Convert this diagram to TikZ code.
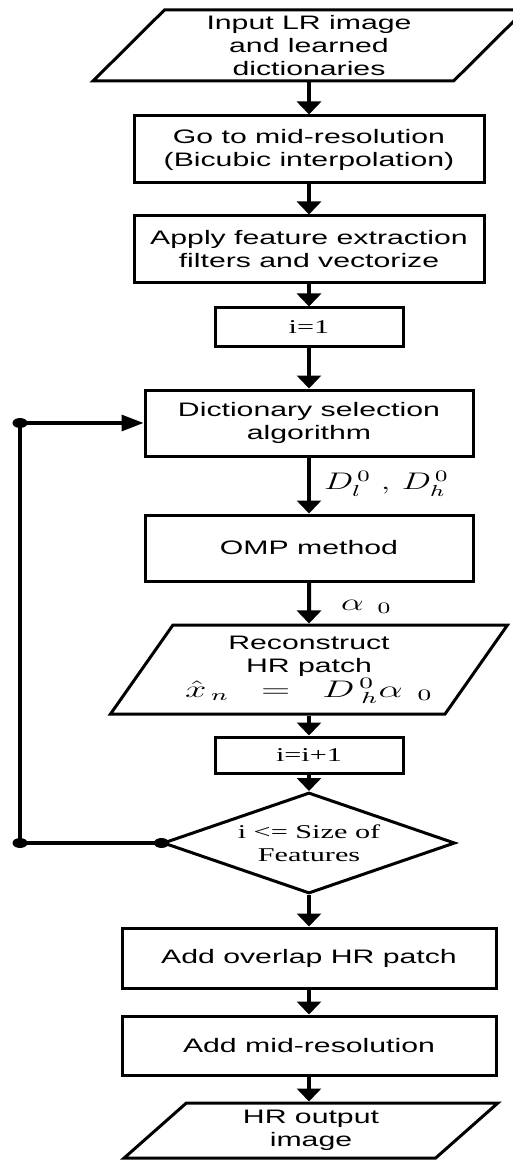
\documentclass[tikz,border=0pt]{standalone}
\usepackage{fontspec}
\setmainfont{Liberation Sans}[FakeStretch=1.55]
\newfontfamily\tnr{Liberation Serif}[FakeStretch=1.55]
\usepackage{amsmath}
\usepackage{graphicx}
\usetikzlibrary{shapes.geometric, arrows.meta, positioning}

\begin{document}
\begin{tikzpicture}[
    x=0.5pt, y=-0.5pt,
    procbox/.style = {rectangle, draw=black, line width=1.5pt, align=center, inner sep=0pt, font=\fontsize{9.75}{11.5}\selectfont},
    iobox/.style = {trapezium, trapezium left angle=50, trapezium right angle=130, trapezium stretches=true, draw=black, line width=1.5pt, align=center, inner sep=0pt, font=\fontsize{9.75}{11.5}\selectfont},
    decbox/.style = {diamond, draw=black, line width=1.5pt, align=center, inner sep=0pt, shape aspect=2.9, font=\tnr\fontsize{9.75}{11.5}\selectfont},
    flow/.style = {-{Triangle[length=6.5pt, width=12pt]}, line width=2pt},
    loopline/.style = {line width=1.6pt},
    mathlbl/.style = {inner sep=0pt, font=\fontsize{11.5}{13}\selectfont},
    dot/.style = {ellipse, fill=black, inner sep=0pt, minimum width=7.5pt, minimum height=5pt}
]
\useasboundingbox (0,0) rectangle (513,1160);

\node [iobox, minimum width=216pt, minimum height=35.5pt] (input) at (309, 45.5) {Input LR image\\and learned\\dictionaries};
\node [procbox, minimum width=175pt, minimum height=33.5pt] (midres) at (309, 149.5) {Go to mid-resolution\\(Bicubic interpolation)};
\node [procbox, minimum width=175pt, minimum height=33.5pt] (feat) at (309, 249.5) {Apply feature extraction\\filters and vectorize};
\node [procbox, minimum width=94pt, minimum height=19pt, font=\tnr\fontsize{9.75}{11.5}\selectfont] (init) at (309, 327) {i=1};
\node [procbox, minimum width=164pt, minimum height=33pt] (dictsel) at (309, 423) {Dictionary selection\\algorithm};
\node [procbox, minimum width=164pt, minimum height=33pt] (omp) at (309, 548) {OMP method};
\node [iobox, minimum width=199pt, minimum height=44.5pt] (recon) at (309, 669.5)
    {Reconstruct\\HR patch\\{\fontsize{11.5}{11.5}\selectfont\scalebox{1.6}[1]{$\hat{x}_{\,n}\;\;=\;\;D_{\;h}^{\,0}\alpha_{\;\;0}$}}};
\node [procbox, minimum width=94pt, minimum height=18pt, font=\tnr\fontsize{9.75}{11.5}\selectfont] (incr) at (309, 755) {i=i+1};
\node [decbox, minimum width=146pt, minimum height=50.5pt] (check) at (309, 843) {i <= Size of\\Features};
\node [procbox, minimum width=187pt, minimum height=30pt] (overlap) at (309, 958) {Add overlap HR patch};
\node [procbox, minimum width=187pt, minimum height=29.5pt] (addmid) at (309, 1045.5) {Add mid-resolution};
\node [iobox, minimum width=187pt, minimum height=27.5pt] (output) at (311, 1130.5) {HR output\\image};

\coordinate (lbot) at (20, 843);

% main flow
\draw[flow] (input.south -| midres.north) -- (midres);
\draw[flow] (midres) -- (feat);
\draw[flow] (feat) -- (init);
\draw[flow] (init) -- (dictsel);
\draw[flow] (dictsel) -- node[mathlbl, right=6.5pt, yshift=1pt] {\scalebox{1.45}[1]{$D_{l}^{\,0}\;,\,D_{h}^{\,0}$}} (omp);
\draw[flow] (omp) -- node[mathlbl, right=15pt, yshift=-2pt] {\scalebox{1.5}[1]{$\alpha_{\;\;0}$}} (recon);
\draw[flow] (recon.south -| incr.north) -- (incr);
\draw[flow] (incr) -- (check);
\draw[flow] (check) -- (overlap);
\draw[flow] (overlap) -- (addmid);
\draw[flow] (addmid) -- (output.north -| addmid.south);

% loop back
\draw[loopline, -{Triangle[length=11pt, width=8pt]}] (check.west) -- (lbot) |- (dictsel.west);
\node [dot] (d1) at (check.west) {};
\node [dot] (d2) at (lbot) {};
\node [dot] (d3) at (lbot |- dictsel.west) {};

\end{tikzpicture}
\end{document}
